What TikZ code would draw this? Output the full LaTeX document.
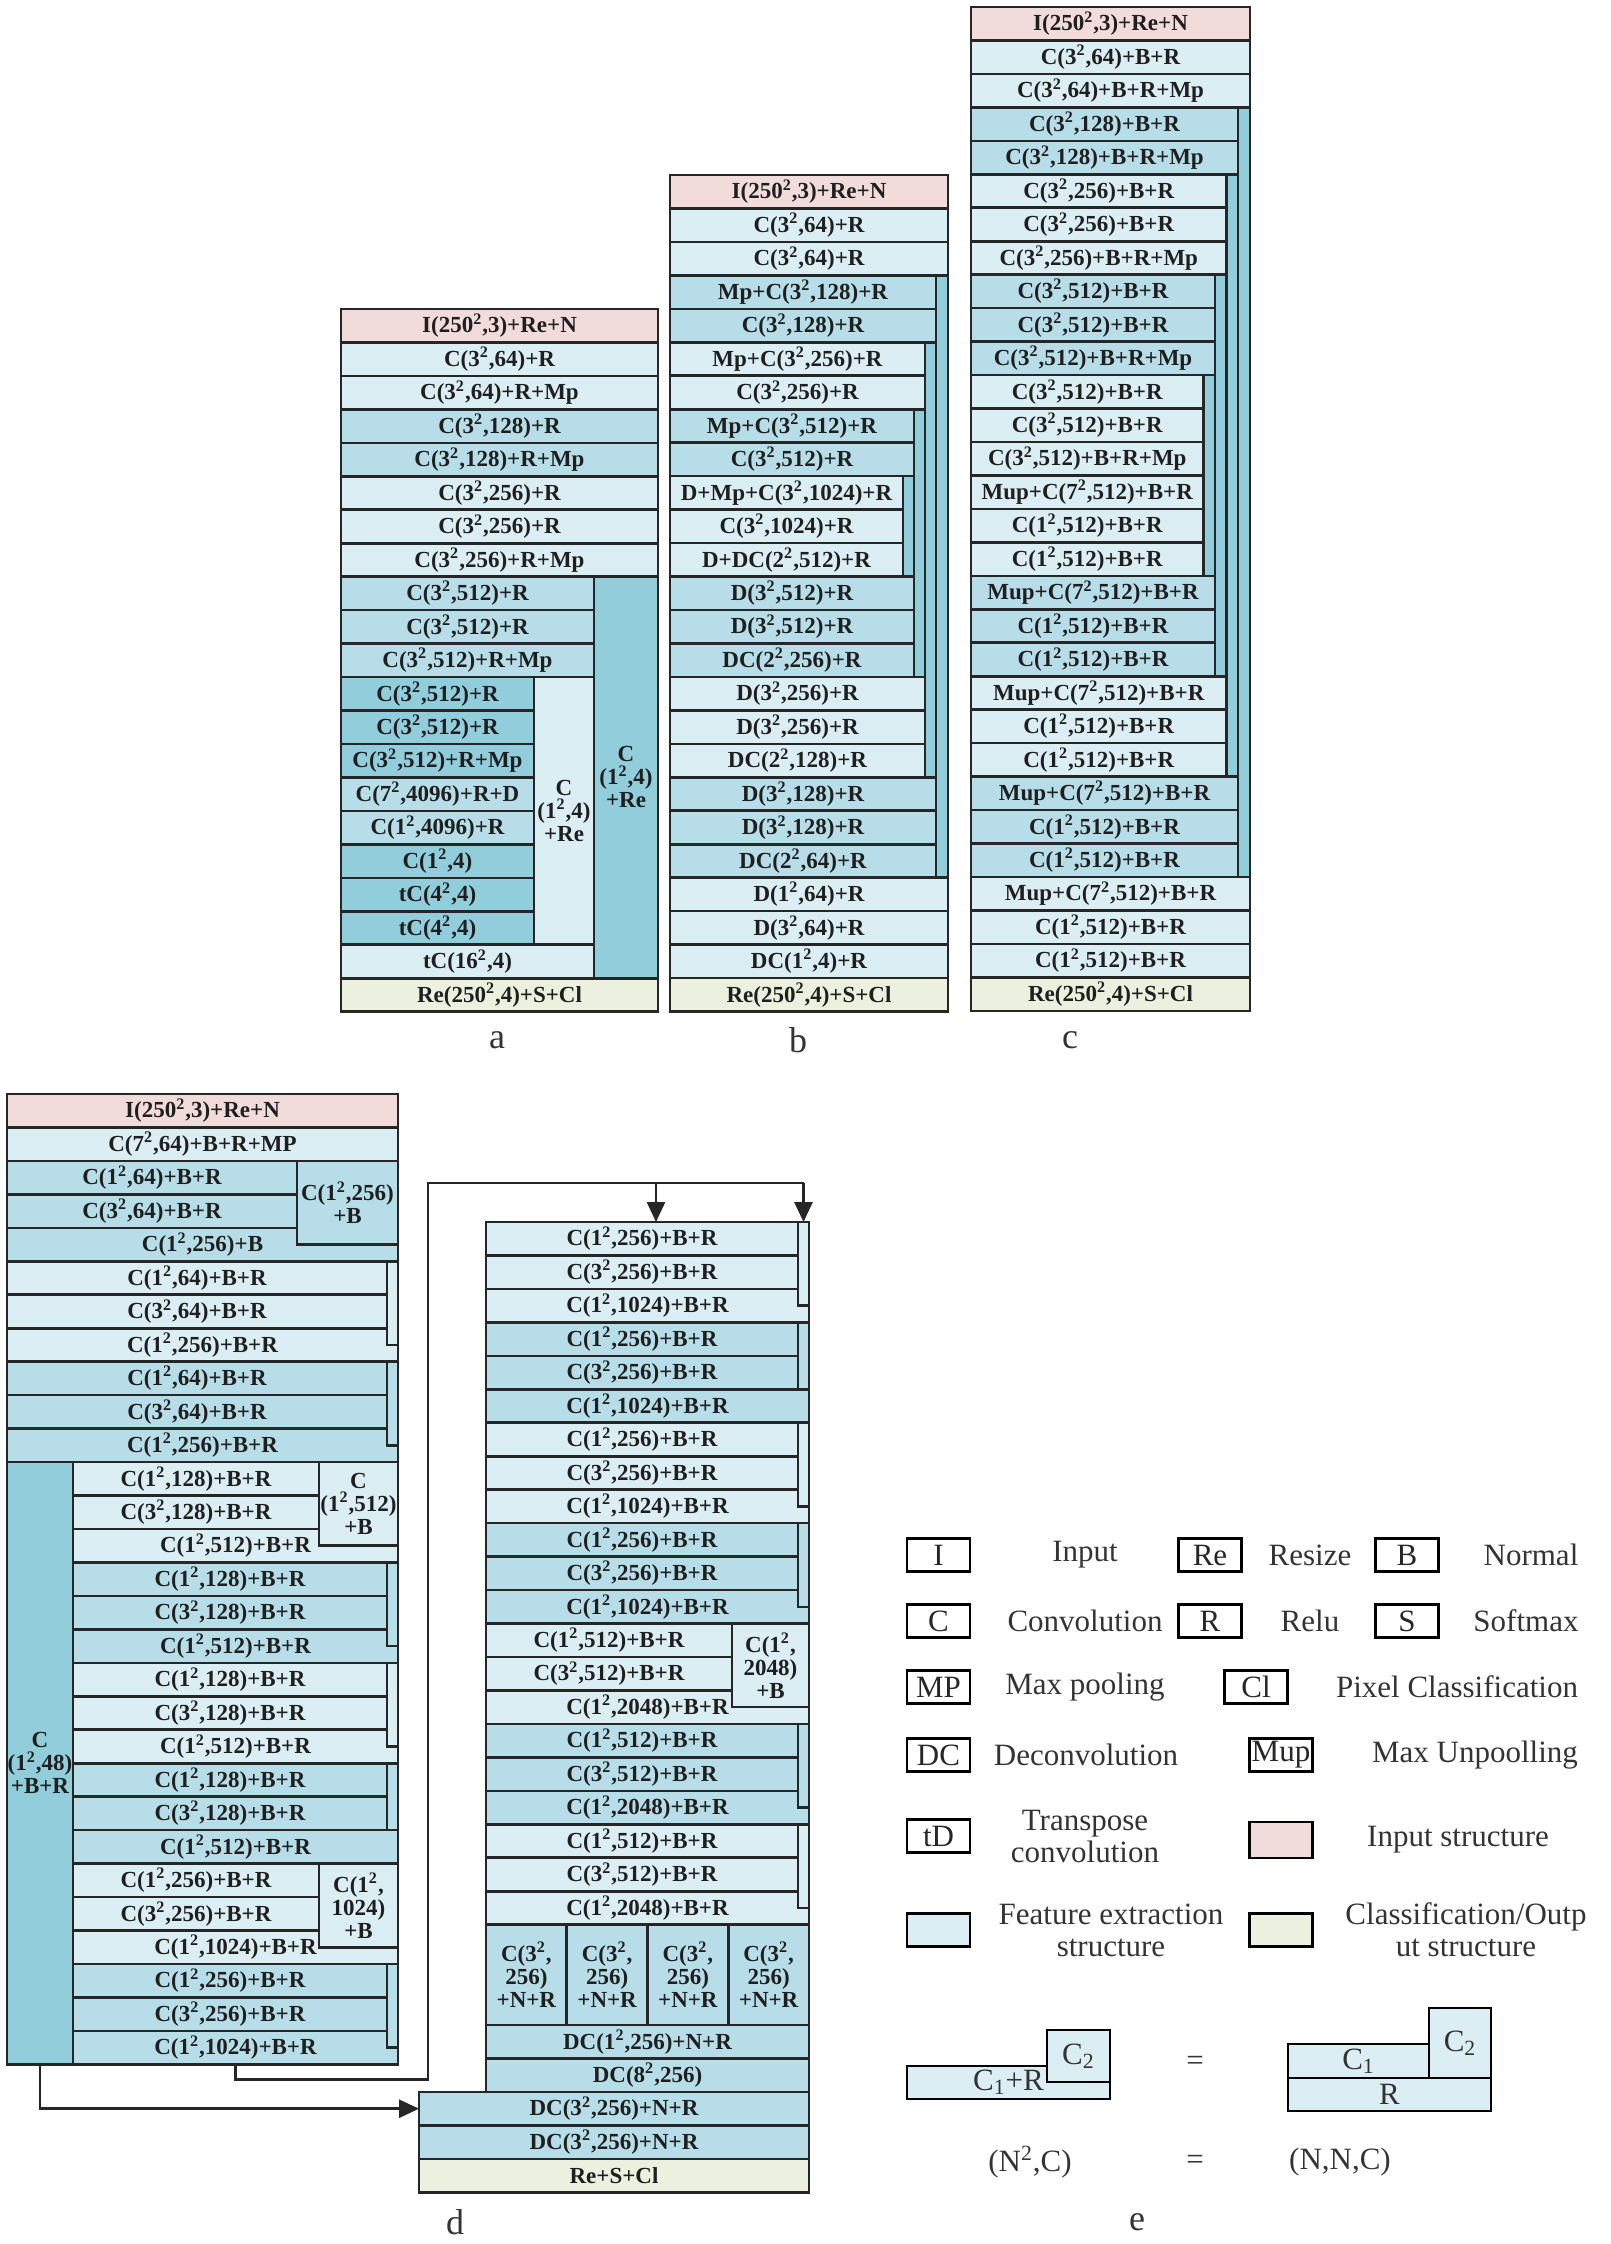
\documentclass[tikz,border=0pt]{standalone}
\usepackage{fontspec}
\setmainfont{Liberation Serif}
\usetikzlibrary{arrows.meta}
\definecolor{pnk}{HTML}{F2DCDB}
\definecolor{lit}{HTML}{DBEEF4}
\definecolor{mid}{HTML}{B7DEE8}
\definecolor{drk}{HTML}{92CDDC}
\definecolor{grn}{HTML}{EBF1DE}
\definecolor{edge}{HTML}{262626}
\newcommand{\psq}{\textsuperscript{2}}
\tikzset{
  lyr/.style={draw=edge, line width=1.3pt, inner sep=0pt, outer sep=0pt, anchor=north west,
    minimum height=16.73pt, align=center, text=black!88,
    font=\fontsize{11.5}{11.5}\selectfont\bfseries},
  lgbox/.style={draw=black, line width=1.4pt, minimum width=31.5pt, minimum height=16.5pt,
    inner sep=0pt, text=black!85, font=\fontsize{15.5}{16}\selectfont},
  lgfill/.style={draw=black, line width=1.4pt, fill=lit, inner sep=0pt, outer sep=0pt,
    anchor=north west, text=black!80, font=\fontsize{15.5}{16}\selectfont},
  lgtxt/.style={align=center, inner sep=0pt, text=black!80, font=\fontsize{15.5}{16}\selectfont},
  plab/.style={text=black!80, font=\fontsize{18}{18}\selectfont},
  link/.style={draw=edge, line width=1.4pt},
  tip/.style={-{Triangle[length=10pt,width=9pt]}}
}
\begin{document}
\begin{tikzpicture}[x=0.5pt, y=-0.5pt]
\useasboundingbox (0,0) rectangle (1611,2244);

% a
\foreach \xr/\fc/\lab [count=\i] in {
  658/pnk/{I(250\psq,3)+Re+N}, 658/lit/{C(3\psq,64)+R}, 658/lit/{C(3\psq,64)+R+Mp},
  658/mid/{C(3\psq,128)+R}, 658/mid/{C(3\psq,128)+R+Mp}, 658/lit/{C(3\psq,256)+R},
  658/lit/{C(3\psq,256)+R}, 658/lit/{C(3\psq,256)+R+Mp}, 594/mid/{C(3\psq,512)+R},
  594/mid/{C(3\psq,512)+R}, 594/mid/{C(3\psq,512)+R+Mp}, 534/drk/{C(3\psq,512)+R},
  534/drk/{C(3\psq,512)+R}, 534/drk/{C(3\psq,512)+R+Mp}, 534/mid/{C(7\psq,4096)+R+D},
  534/mid/{C(1\psq,4096)+R}, 534/drk/{C(1\psq,4)}, 534/drk/{tC(4\psq,4)},
  534/drk/{tC(4\psq,4)}, 594/lit/{tC(16\psq,4)}, 658/grn/{Re(250\psq,4)+S+Cl}}
  \node[lyr, fill=\fc, minimum width={(\xr-341)*0.5pt}] (a\i) at (341,{309+(\i-1)*33.46}) {\lab};
\node[lyr, fill=drk, minimum width=32pt, minimum height={12*16.73pt}] (acol) at (594,{309+8*33.46}) {C\\(1\psq,4)\\+Re};
\node[lyr, fill=lit, minimum width=30pt, minimum height={8*16.73pt}] (asub) at (534,{309+11*33.46}) {C\\(1\psq,4)\\+Re};

% b
\foreach \xr/\fc/\lab [count=\i] in {
  948/pnk/{I(250\psq,3)+Re+N}, 948/lit/{C(3\psq,64)+R}, 948/lit/{C(3\psq,64)+R},
  936/mid/{Mp+C(3\psq,128)+R}, 936/mid/{C(3\psq,128)+R}, 925/lit/{Mp+C(3\psq,256)+R},
  925/lit/{C(3\psq,256)+R}, 914/mid/{Mp+C(3\psq,512)+R}, 914/mid/{C(3\psq,512)+R},
  903/lit/{D+Mp+C(3\psq,1024)+R}, 903/lit/{C(3\psq,1024)+R}, 903/lit/{D+DC(2\psq,512)+R},
  914/mid/{D(3\psq,512)+R}, 914/mid/{D(3\psq,512)+R}, 914/mid/{DC(2\psq,256)+R},
  925/lit/{D(3\psq,256)+R}, 925/lit/{D(3\psq,256)+R}, 925/lit/{DC(2\psq,128)+R},
  936/mid/{D(3\psq,128)+R}, 936/mid/{D(3\psq,128)+R}, 936/mid/{DC(2\psq,64)+R},
  948/lit/{D(1\psq,64)+R}, 948/lit/{D(3\psq,64)+R}, 948/lit/{DC(1\psq,4)+R},
  948/grn/{Re(250\psq,4)+S+Cl}}
  \node[lyr, fill=\fc, minimum width={(\xr-670)*0.5pt}] (b\i) at (670,{175+(\i-1)*33.46}) {\lab};
\foreach \xl/\xr/\fr/\nr [count=\k] in {936/948/4/18, 925/936/6/13, 914/925/8/8, 903/914/10/3}
  \node[lyr, fill=drk, minimum width={(\xr-\xl)*0.5pt}, minimum height={\nr*16.73pt}] (bb\k) at (\xl,{175+(\fr-1)*33.46}) {};

% c
\foreach \xr/\fc/\lab [count=\i] in {
  1250/pnk/{I(250\psq,3)+Re+N}, 1250/lit/{C(3\psq,64)+B+R}, 1250/lit/{C(3\psq,64)+B+R+Mp},
  1238/mid/{C(3\psq,128)+B+R}, 1238/mid/{C(3\psq,128)+B+R+Mp},
  1226.5/lit/{C(3\psq,256)+B+R}, 1226.5/lit/{C(3\psq,256)+B+R}, 1226.5/lit/{C(3\psq,256)+B+R+Mp},
  1215/mid/{C(3\psq,512)+B+R}, 1215/mid/{C(3\psq,512)+B+R}, 1215/mid/{C(3\psq,512)+B+R+Mp},
  1203.5/lit/{C(3\psq,512)+B+R}, 1203.5/lit/{C(3\psq,512)+B+R}, 1203.5/lit/{C(3\psq,512)+B+R+Mp},
  1203.5/lit/{Mup+C(7\psq,512)+B+R}, 1203.5/lit/{C(1\psq,512)+B+R}, 1203.5/lit/{C(1\psq,512)+B+R},
  1215/mid/{Mup+C(7\psq,512)+B+R}, 1215/mid/{C(1\psq,512)+B+R}, 1215/mid/{C(1\psq,512)+B+R},
  1226.5/lit/{Mup+C(7\psq,512)+B+R}, 1226.5/lit/{C(1\psq,512)+B+R}, 1226.5/lit/{C(1\psq,512)+B+R},
  1238/mid/{Mup+C(7\psq,512)+B+R}, 1238/mid/{C(1\psq,512)+B+R}, 1238/mid/{C(1\psq,512)+B+R},
  1250/lit/{Mup+C(7\psq,512)+B+R}, 1250/lit/{C(1\psq,512)+B+R}, 1250/lit/{C(1\psq,512)+B+R},
  1250/grn/{Re(250\psq,4)+S+Cl}}
  \node[lyr, fill=\fc, minimum width={(\xr-971)*0.5pt}] (c\i) at (971,{7+(\i-1)*33.46}) {\lab};
\foreach \xl/\xr/\fr/\nr [count=\k] in {1238/1250/4/23, 1226.5/1238/6/18, 1215/1226.5/9/12, 1203.5/1215/12/6}
  \node[lyr, fill=drk, minimum width={(\xr-\xl)*0.5pt}, minimum height={\nr*16.73pt}] (cb\k) at (\xl,{7+(\fr-1)*33.46}) {};

% d, left block
\foreach \xl/\xr/\fc/\lab [count=\i] in {
  7/398/pnk/{I(250\psq,3)+Re+N}, 7/398/lit/{C(7\psq,64)+B+R+MP},
  7/297/mid/{C(1\psq,64)+B+R}, 7/297/mid/{C(3\psq,64)+B+R}, 7/398/mid/{C(1\psq,256)+B},
  7/387/lit/{C(1\psq,64)+B+R}, 7/387/lit/{C(3\psq,64)+B+R}, 7/398/lit/{C(1\psq,256)+B+R},
  7/387/mid/{C(1\psq,64)+B+R}, 7/387/mid/{C(3\psq,64)+B+R}, 7/398/mid/{C(1\psq,256)+B+R},
  73/319/lit/{C(1\psq,128)+B+R}, 73/319/lit/{C(3\psq,128)+B+R}, 73/398/lit/{C(1\psq,512)+B+R},
  73/387/mid/{C(1\psq,128)+B+R}, 73/387/mid/{C(3\psq,128)+B+R}, 73/398/mid/{C(1\psq,512)+B+R},
  73/387/lit/{C(1\psq,128)+B+R}, 73/387/lit/{C(3\psq,128)+B+R}, 73/398/lit/{C(1\psq,512)+B+R},
  73/387/mid/{C(1\psq,128)+B+R}, 73/387/mid/{C(3\psq,128)+B+R}, 73/398/mid/{C(1\psq,512)+B+R},
  73/319/lit/{C(1\psq,256)+B+R}, 73/319/lit/{C(3\psq,256)+B+R}, 73/398/lit/{C(1\psq,1024)+B+R},
  73/387/mid/{C(1\psq,256)+B+R}, 73/387/mid/{C(3\psq,256)+B+R}, 73/398/mid/{C(1\psq,1024)+B+R}}
  \node[lyr, fill=\fc, minimum width={(\xr-\xl)*0.5pt}] (dl\i) at (\xl,{1094+(\i-1)*33.46}) {\lab};
\foreach \fr/\nr/\fc [count=\k] in {6/2.5/lit, 9/2.5/mid, 15/2.5/mid, 18/2.5/lit, 21/2/mid, 27/2.5/mid}
  \node[lyr, fill=\fc, minimum width=5.5pt, minimum height={\nr*16.73pt}] (dlb\k) at (387,{1094+(\fr-1)*33.46}) {};
\node[lyr, fill=mid, minimum width=50.5pt, minimum height={2.5*16.73pt}] (dls1) at (297,{1094+2*33.46}) {C(1\psq,256)\\+B};
\node[lyr, fill=lit, minimum width=39.5pt, minimum height={2.5*16.73pt}] (dls2) at (319,{1094+11*33.46}) {C\\(1\psq,512)\\+B};
\node[lyr, fill=lit, minimum width=39.5pt, minimum height={2.5*16.73pt}] (dls3) at (319,{1094+23*33.46}) {C(1\psq,\\1024)\\+B};
\node[lyr, fill=drk, minimum width=33pt, minimum height={18*16.73pt}] (dlcol) at (7,{1094+11*33.46}) {C\\(1\psq,48)\\+B+R};

% d, right block
\foreach \xr/\fc/\lab [count=\i] in {
  798/lit/{C(1\psq,256)+B+R}, 798/lit/{C(3\psq,256)+B+R}, 809/lit/{C(1\psq,1024)+B+R},
  798/mid/{C(1\psq,256)+B+R}, 798/mid/{C(3\psq,256)+B+R}, 809/mid/{C(1\psq,1024)+B+R},
  798/lit/{C(1\psq,256)+B+R}, 798/lit/{C(3\psq,256)+B+R}, 809/lit/{C(1\psq,1024)+B+R},
  798/mid/{C(1\psq,256)+B+R}, 798/mid/{C(3\psq,256)+B+R}, 809/mid/{C(1\psq,1024)+B+R},
  732/lit/{C(1\psq,512)+B+R}, 732/lit/{C(3\psq,512)+B+R}, 809/lit/{C(1\psq,2048)+B+R},
  798/mid/{C(1\psq,512)+B+R}, 798/mid/{C(3\psq,512)+B+R}, 809/mid/{C(1\psq,2048)+B+R},
  798/lit/{C(1\psq,512)+B+R}, 798/lit/{C(3\psq,512)+B+R}, 809/lit/{C(1\psq,2048)+B+R}}
  \node[lyr, fill=\fc, minimum width={(\xr-486)*0.5pt}] (dr\i) at (486,{1222+(\i-1)*33.46}) {\lab};
\foreach \fr/\nr/\fc [count=\k] in {1/2.5/lit, 4/2/mid, 7/2.5/lit, 10/2.5/mid, 16/2.5/mid, 19/2.5/lit}
  \node[lyr, fill=\fc, minimum width=5.5pt, minimum height={\nr*16.73pt}] (drb\k) at (798,{1222+(\fr-1)*33.46}) {};
\node[lyr, fill=lit, minimum width=38.5pt, minimum height={2.5*16.73pt}] (drs) at (732,{1222+12*33.46}) {C(1\psq,\\2048)\\+B};
\foreach \k [count=\j] in {0,...,3}
  \node[lyr, fill=mid, minimum width=40.375pt, minimum height={3*16.73pt}] (dcell\j) at ({486+\k*80.75},{1222+21*33.46}) {C(3\psq,\\256)\\+N+R};
\foreach \xl/\fc/\lab [count=\i from 25] in {
  486/mid/{DC(1\psq,256)+N+R}, 486/mid/{DC(8\psq,256)}, 419/mid/{DC(3\psq,256)+N+R},
  419/mid/{DC(3\psq,256)+N+R}, 419/grn/{Re+S+Cl}}
  \node[lyr, fill=\fc, minimum width={(809-\xl)*0.5pt}] (dr\i) at (\xl,{1222+(\i-1)*33.46}) {\lab};

\coordinate (lp) at (428,1183);
\draw[link] (dl29.south) -- ++(0,15) -| (lp) -- (lp -| drb1.north);
\draw[link, tip] ([xshift=7pt]dr1.north |- lp) -- ([xshift=7pt]dr1.north);
\draw[link, tip] (drb1.north |- lp) -- (drb1.north);
\draw[link, tip] (dlcol.south) |- (dr27.west);

% e
\node[lgbox] (kI) at (938.5,1555) {I};
\node[lgtxt] (tI) at (1085,1555) {Input};
\node[lgbox] (kRe) at (1210,1555) {Re};
\node[lgtxt] (tRe) at (1310,1555) {Resize};
\node[lgbox] (kB) at (1407,1555) {B};
\node[lgtxt] (tB) at (1531,1555) {Normal};
\node[lgbox] (kC) at (938.5,1621) {C};
\node[lgtxt] (tC) at (1085,1621) {Convolution};
\node[lgbox] (kR) at (1210,1621) {R};
\node[lgtxt] (tR) at (1310,1621) {Relu};
\node[lgbox] (kS) at (1407,1621) {S};
\node[lgtxt] (tS) at (1526,1621) {Softmax};
\node[lgbox] (kMP) at (938.5,1687) {MP};
\node[lgtxt] (tMP) at (1085,1687) {Max pooling};
\node[lgbox] (kCl) at (1256,1687) {Cl};
\node[lgtxt] (tCl) at (1457,1687) {Pixel Classification};
\node[lgbox] (kDC) at (938.5,1755) {DC};
\node[lgtxt] (tDC) at (1086,1755) {Deconvolution};
\node[lgbox] (kMup) at (1281,1755) {Mup};
\node[lgtxt] (tMup) at (1475,1755) {Max Unpoolling};
\node[lgbox] (ktD) at (938.5,1836) {tD};
\node[lgtxt] (ttD) at (1085,1836) {Transpose\\convolution};
\node[lgbox, fill=pnk, minimum height=18pt] (kin) at (1281,1840) {};
\node[lgtxt] (tin) at (1458,1840) {Input structure};
\node[lgbox, fill=lit] (kfe) at (938.5,1930) {};
\node[lgtxt] (tfe) at (1111,1930) {Feature extraction\\structure};
\node[lgbox, fill=grn] (kout) at (1281,1930) {};
\node[lgtxt] (tout) at (1466,1930) {Classification/Outp\\ut structure};

\node[lgfill, minimum width=101.5pt, minimum height=16.5pt] (ec1r) at (907,2066) {C\textsubscript{1}+R};
\node[lgfill, minimum width=31.5pt, minimum height=26pt] (ec2) at (1047,2030) {C\textsubscript{2}};
\node[lgfill, minimum width=70.5pt, minimum height=17pt] (fc1) at (1288,2044) {C\textsubscript{1}};
\node[lgfill, minimum width=101.5pt, minimum height=16.5pt] (fr) at (1288,2078) {R};
\node[lgfill, minimum width=31pt, minimum height=35pt] (fc2) at (1429,2008) {C\textsubscript{2}};
\node[lgtxt] (eq1) at (1195,2063) {=};
\node[lgtxt] (eq2) at (1195,2162) {=};
\node[lgtxt] (nn1) at (1030,2162) {(N\textsuperscript{2},C)};
\node[lgtxt] (nn2) at (1340,2162) {(N,N,C)};

\node[plab] (la) at (497,1040) {a};
\node[plab] (lb) at (798,1040) {b};
\node[plab] (lc) at (1070,1040) {c};
\node[plab] (ld) at (455,2222) {d};
\node[plab] (le) at (1137,2222) {e};
\end{tikzpicture}
\end{document}
